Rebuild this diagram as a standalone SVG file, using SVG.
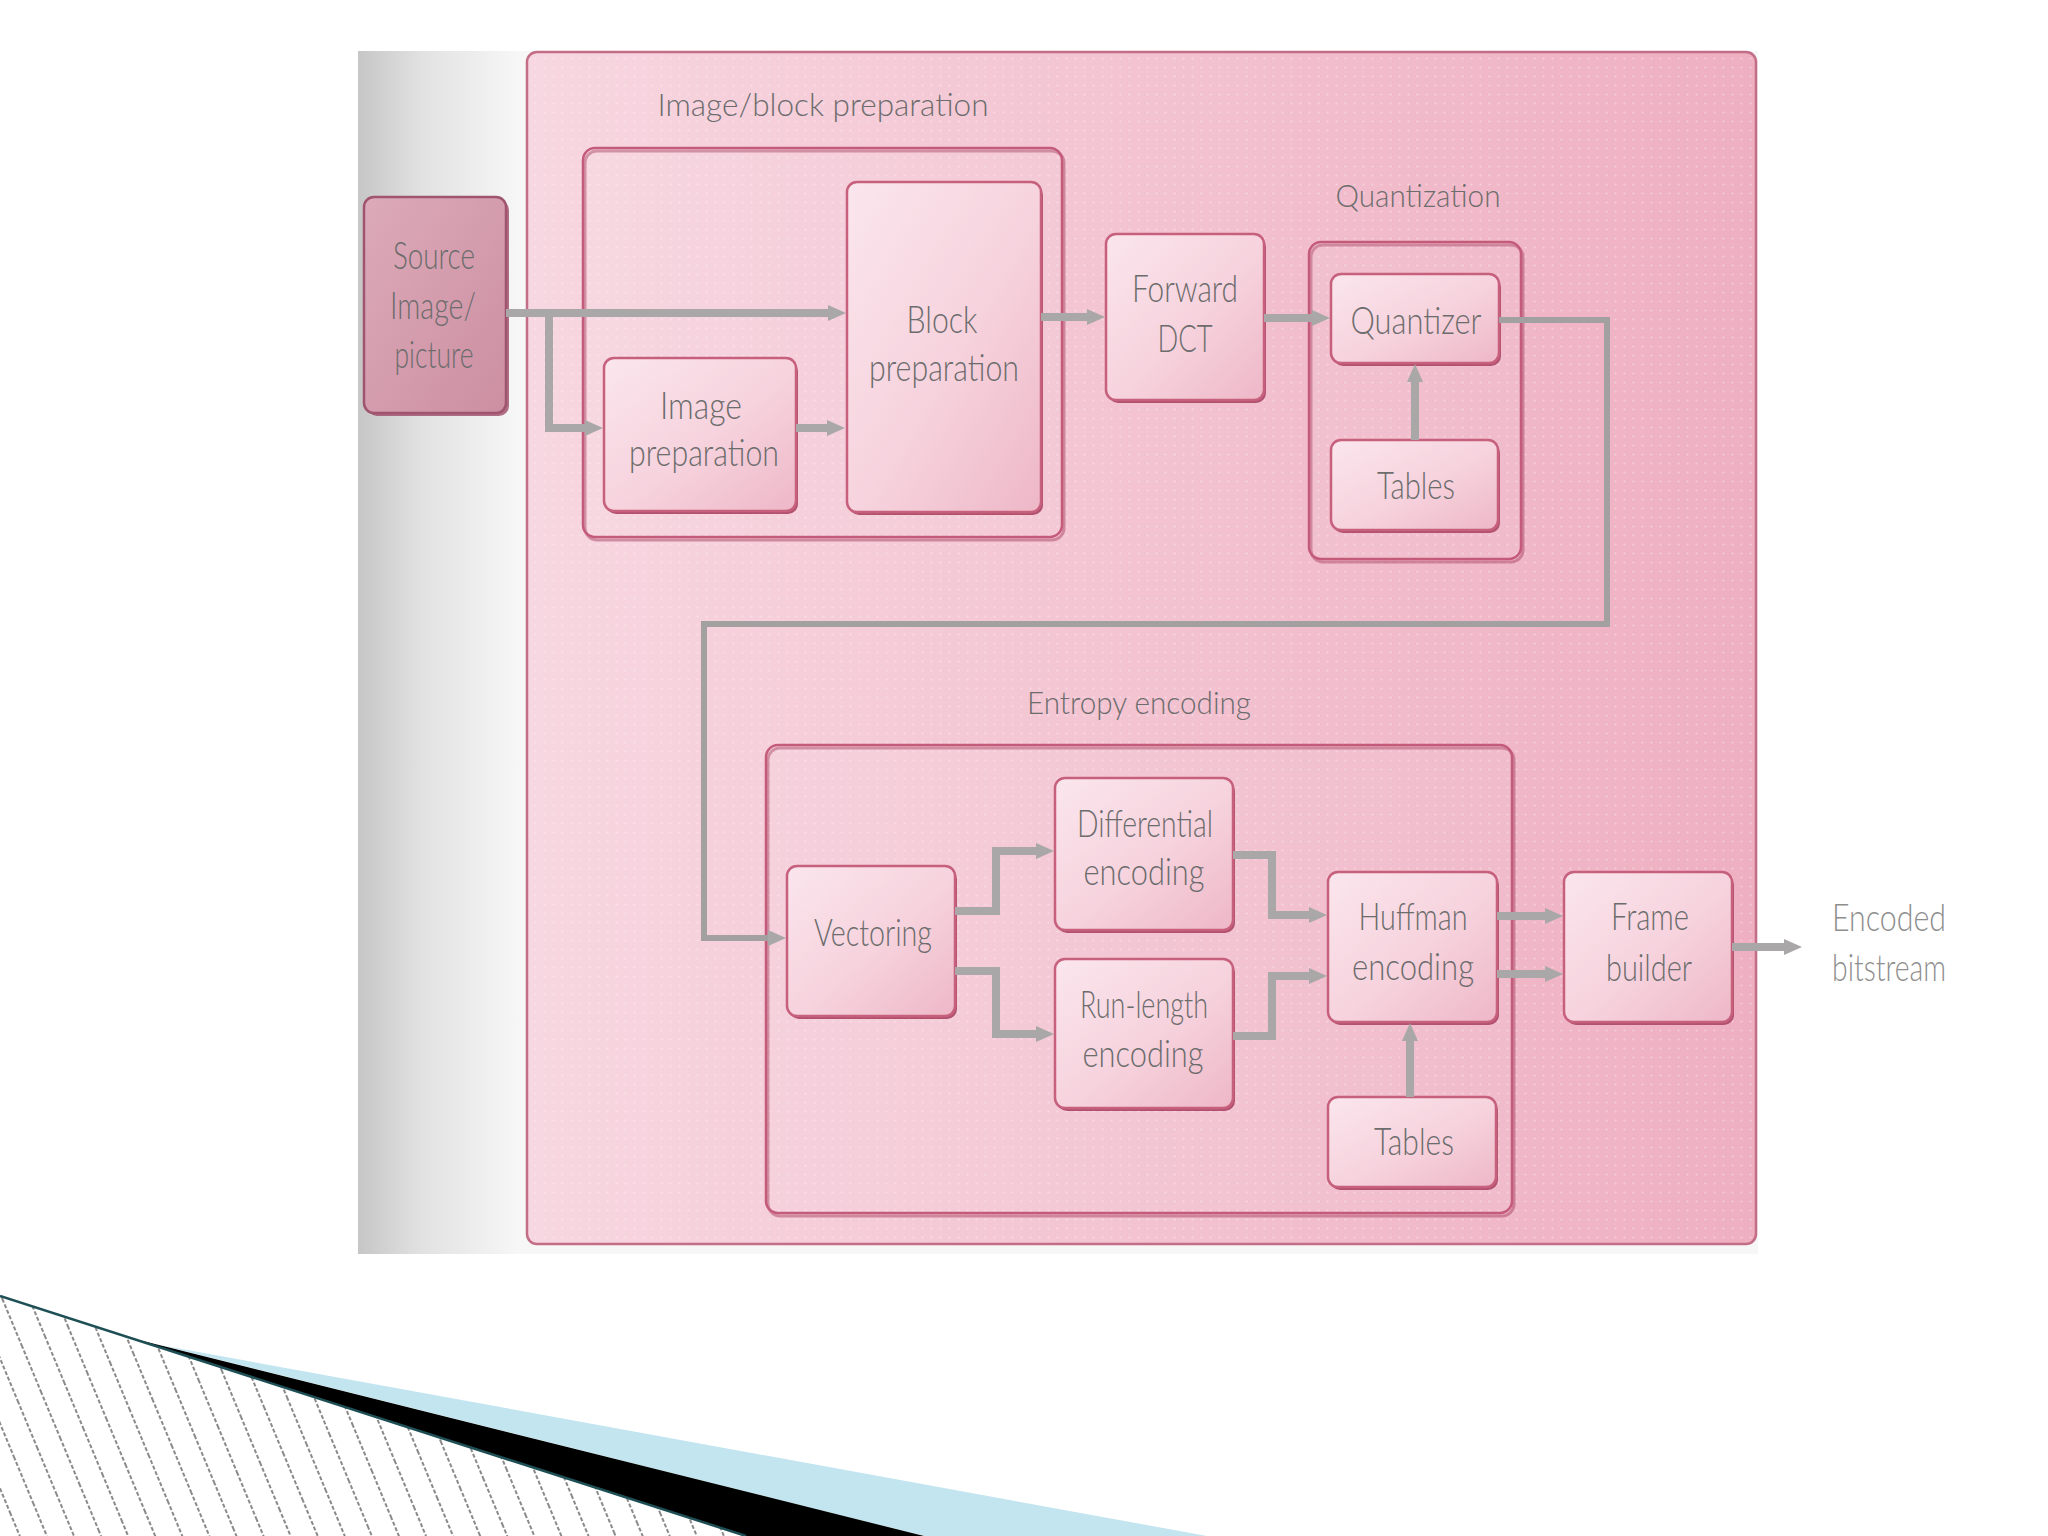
<svg xmlns="http://www.w3.org/2000/svg" width="2048" height="1536" viewBox="0 0 2048 1536">
<defs>
<style>
.t{font-family:Lato,"Open Sans","Liberation Sans",sans-serif;font-weight:300;fill:#6c6c6c;text-anchor:middle;}
.n{font-size:37px;}
.g{font-size:32px;}
.out{fill:#8e8e8e;}
.node{fill:url(#nodeFill);stroke:#c6607d;stroke-width:2.5;}
.shadow{fill:#b25270;}
.cont{fill:#ffffff;fill-opacity:0.06;stroke:#c45b7a;stroke-width:2.5;}
.cshadow{fill:none;stroke:#b0506e;stroke-width:3;opacity:0.55;}
.conn{fill:none;stroke:#a9a7a8;stroke-width:8;stroke-linejoin:miter;marker-end:url(#arr);}
.fb{stroke-width:6;stroke:#a2a0a1;}
</style>
<linearGradient id="page" gradientUnits="userSpaceOnUse" x1="358" y1="0" x2="520" y2="0">
<stop offset="0" stop-color="#c6c6c6"/>
<stop offset="0.4" stop-color="#e2e2e2"/>
<stop offset="1" stop-color="#f7f7f7"/>
</linearGradient>
<linearGradient id="pink" gradientUnits="userSpaceOnUse" x1="527" y1="0" x2="1756" y2="0">
<stop offset="0" stop-color="#f7d7e1"/>
<stop offset="0.5" stop-color="#f3c3d1"/>
<stop offset="1" stop-color="#eeafc1"/>
</linearGradient>
<linearGradient id="nodeFill" x1="0" y1="0" x2="1" y2="1">
<stop offset="0" stop-color="#fbe6ed"/>
<stop offset="0.55" stop-color="#f6d2dd"/>
<stop offset="1" stop-color="#eeb7c7"/>
</linearGradient>
<linearGradient id="srcFill" x1="0" y1="0" x2="1" y2="1">
<stop offset="0" stop-color="#dcaab9"/>
<stop offset="1" stop-color="#cc8fa2"/>
</linearGradient>
<pattern id="dots" patternUnits="userSpaceOnUse" width="9" height="9">
<circle cx="4.5" cy="4.5" r="1.1" fill="#ffffff" fill-opacity="0.55"/>
</pattern>
<pattern id="hatch" patternUnits="userSpaceOnUse" width="25" height="50" patternTransform="rotate(-22.6)">
<line x1="3" y1="0" x2="3" y2="50" stroke="#8a8a8a" stroke-width="2" stroke-dasharray="4 2"/>
</pattern>
<marker id="arr" markerUnits="userSpaceOnUse" markerWidth="18" markerHeight="16" refX="8" refY="8" orient="auto">
<path d="M0,0 L18,8 L0,16 Z" fill="#a9a7a8"/>
</marker>
</defs>

<g id="background">
<rect x="0" y="0" width="2048" height="1536" fill="#ffffff"/>
<rect x="358" y="51" width="1400" height="1203" fill="url(#page)"/>
<rect x="527" y="52" width="1229" height="1192" rx="10" fill="url(#pink)" stroke="#c46d87" stroke-width="2.5"/>
<rect x="529" y="54" width="1225" height="1188" rx="9" fill="url(#dots)" opacity="0.6"/>
</g>

<g id="group-image-block">
<rect x="585" y="151" width="479" height="389" rx="12" class="cshadow"/>
<rect x="583" y="148" width="479" height="389" rx="12" class="cont"/>
<text class="t g" x="823" y="116" textLength="331" lengthAdjust="spacingAndGlyphs">Image/block preparation</text>
</g>

<g id="group-quantization">
<rect x="1311" y="245" width="212" height="317" rx="12" class="cshadow"/>
<rect x="1309" y="242" width="212" height="317" rx="12" class="cont"/>
<text class="t g" x="1418" y="207" textLength="165" lengthAdjust="spacingAndGlyphs">Quantization</text>
</g>

<g id="group-entropy">
<rect x="768" y="748" width="746" height="468" rx="12" class="cshadow"/>
<rect x="766" y="745" width="746" height="468" rx="12" class="cont"/>
<text class="t g" x="1139" y="714" textLength="224" lengthAdjust="spacingAndGlyphs">Entropy encoding</text>
</g>

<g id="node-source">
<rect x="367" y="200" width="142" height="216" rx="10" fill="#9c4c66" opacity="0.8"/>
<rect x="364" y="197" width="142" height="216" rx="10" fill="url(#srcFill)" stroke="#a05470" stroke-width="2.5"/>
<text class="t n" x="434" y="269" textLength="82" lengthAdjust="spacingAndGlyphs">Source</text>
<text class="t n" x="433" y="319" textLength="86" lengthAdjust="spacingAndGlyphs">Image/</text>
<text class="t n" x="434" y="368" textLength="79" lengthAdjust="spacingAndGlyphs">picture</text>
</g>

<g id="node-block-preparation">
<rect x="849" y="185" width="194" height="330" rx="10" class="shadow"/>
<rect x="847" y="182" width="194" height="330" rx="10" class="node"/>
<text class="t n" x="942" y="333" textLength="71" lengthAdjust="spacingAndGlyphs">Block</text>
<text class="t n" x="944" y="381" textLength="150" lengthAdjust="spacingAndGlyphs">preparation</text>
</g>

<g id="node-image-preparation">
<rect x="606" y="361" width="192" height="153" rx="10" class="shadow"/>
<rect x="604" y="358" width="192" height="153" rx="10" class="node"/>
<text class="t n" x="701" y="419" textLength="82" lengthAdjust="spacingAndGlyphs">Image</text>
<text class="t n" x="704" y="466" textLength="150" lengthAdjust="spacingAndGlyphs">preparation</text>
</g>

<g id="node-forward-dct">
<rect x="1108" y="237" width="158" height="166" rx="10" class="shadow"/>
<rect x="1106" y="234" width="158" height="166" rx="10" class="node"/>
<text class="t n" x="1185" y="302" textLength="106" lengthAdjust="spacingAndGlyphs">Forward</text>
<text class="t n" x="1185" y="352" textLength="55" lengthAdjust="spacingAndGlyphs">DCT</text>
</g>

<g id="node-quantizer">
<rect x="1333" y="277" width="168" height="89" rx="10" class="shadow"/>
<rect x="1331" y="274" width="168" height="89" rx="10" class="node"/>
<text class="t n" x="1416" y="334" textLength="131" lengthAdjust="spacingAndGlyphs">Quantizer</text>
</g>

<g id="node-tables-quant">
<rect x="1333" y="443" width="167" height="90" rx="10" class="shadow"/>
<rect x="1331" y="440" width="167" height="90" rx="10" class="node"/>
<text class="t n" x="1416" y="499" textLength="78" lengthAdjust="spacingAndGlyphs">Tables</text>
</g>

<g id="node-vectoring">
<rect x="789" y="869" width="168" height="150" rx="10" class="shadow"/>
<rect x="787" y="866" width="168" height="150" rx="10" class="node"/>
<text class="t n" x="873" y="946" textLength="118" lengthAdjust="spacingAndGlyphs">Vectoring</text>
</g>

<g id="node-differential">
<rect x="1057" y="781" width="178" height="152" rx="10" class="shadow"/>
<rect x="1055" y="778" width="178" height="152" rx="10" class="node"/>
<text class="t n" x="1145" y="837" textLength="136" lengthAdjust="spacingAndGlyphs">Differential</text>
<text class="t n" x="1144" y="885" textLength="121" lengthAdjust="spacingAndGlyphs">encoding</text>
</g>

<g id="node-run-length">
<rect x="1057" y="962" width="178" height="149" rx="10" class="shadow"/>
<rect x="1055" y="959" width="178" height="149" rx="10" class="node"/>
<text class="t n" x="1144" y="1018" textLength="128" lengthAdjust="spacingAndGlyphs">Run-length</text>
<text class="t n" x="1143" y="1067" textLength="121" lengthAdjust="spacingAndGlyphs">encoding</text>
</g>

<g id="node-huffman">
<rect x="1330" y="875" width="169" height="150" rx="10" class="shadow"/>
<rect x="1328" y="872" width="169" height="150" rx="10" class="node"/>
<text class="t n" x="1413" y="930" textLength="109" lengthAdjust="spacingAndGlyphs">Huffman</text>
<text class="t n" x="1413" y="980" textLength="122" lengthAdjust="spacingAndGlyphs">encoding</text>
</g>

<g id="node-tables-entropy">
<rect x="1330" y="1100" width="168" height="90" rx="10" class="shadow"/>
<rect x="1328" y="1097" width="168" height="90" rx="10" class="node"/>
<text class="t n" x="1414" y="1155" textLength="80" lengthAdjust="spacingAndGlyphs">Tables</text>
</g>

<g id="node-frame-builder">
<rect x="1566" y="875" width="168" height="150" rx="10" class="shadow"/>
<rect x="1564" y="872" width="168" height="150" rx="10" class="node"/>
<text class="t n" x="1650" y="930" textLength="78" lengthAdjust="spacingAndGlyphs">Frame</text>
<text class="t n" x="1649" y="981" textLength="86" lengthAdjust="spacingAndGlyphs">builder</text>
</g>

<g id="node-encoded-bitstream">
<text class="t n out" x="1889" y="931" textLength="114" lengthAdjust="spacingAndGlyphs">Encoded</text>
<text class="t n out" x="1889" y="981" textLength="114" lengthAdjust="spacingAndGlyphs">bitstream</text>
</g>

<g id="connectors">
<path class="conn" d="M506,313 H836"/>
<path class="conn" d="M549,313 V428 H593"/>
<path class="conn" d="M796,428 H835"/>
<path class="conn" d="M1041,317 H1095"/>
<path class="conn" d="M1264,318 H1320"/>
<path class="conn" d="M1415,440 V374"/>
<path class="conn fb" d="M1499,320 H1607 V624 H704 V938 H776"/>
<path class="conn" d="M955,911 H996 V851 H1044"/>
<path class="conn" d="M955,971 H996 V1034 H1044"/>
<path class="conn" d="M1233,855 H1272 V915 H1317"/>
<path class="conn" d="M1233,1036 H1272 V976 H1317"/>
<path class="conn" d="M1410,1097 V1033"/>
<path class="conn" d="M1497,916 H1553"/>
<path class="conn" d="M1497,974 H1553"/>
<path class="conn" d="M1732,947 H1792"/>
</g>

<g id="decoration">
<path d="M0,1296 L746,1536 L0,1536 Z" fill="url(#hatch)"/>
<path d="M160,1345 L1207,1536 L924,1536 Z" fill="#c3e5ef"/>
<path d="M127,1337 L924,1536 L746,1536 Z" fill="#000000"/>
<path d="M0,1296 L746,1536" fill="none" stroke="#1d4f55" stroke-width="2.5"/>
</g>
</svg>
